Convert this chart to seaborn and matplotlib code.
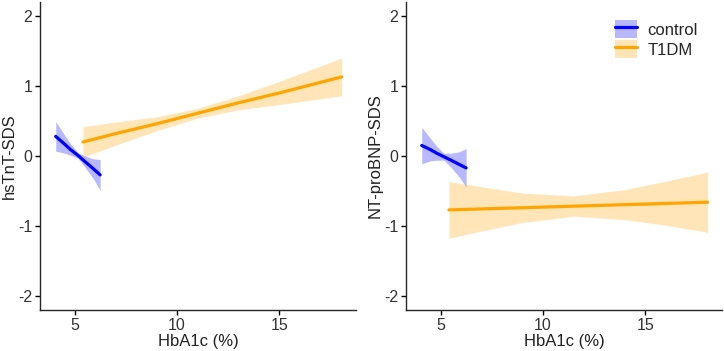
import numpy as np
import pandas as pd
import matplotlib.pyplot as plt
from matplotlib.patches import Patch
from matplotlib.lines import Line2D
import seaborn as sns

# fitted lines and 95% bands
groups = ["control", "T1DM"]
colors = {"control": "#0000FF", "T1DM": "#FFA500"}

ctrl_x = [4.07, 4.5, 4.8, 5.15, 5.5, 5.9, 6.24]
t1dm_x_tnt = [5.4, 7, 9, 11, 13, 15, 18.05]
t1dm_x_bnp = [5.4, 7, 9, 11.5, 14, 16, 18.05]

# hsTnT-SDS
tnt_ctrl_fit = [0.28, 0.17, 0.09, 0.01, -0.08, -0.18, -0.27]
tnt_ctrl_lo = [0.07, 0.04, 0.01, -0.03, -0.16, -0.32, -0.49]
tnt_ctrl_hi = [0.49, 0.30, 0.17, 0.05, 0.00, -0.04, -0.05]
tnt_t1dm_fit = [0.20, 0.32, 0.46, 0.61, 0.76, 0.90, 1.13]
tnt_t1dm_lo = [-0.02, 0.155, 0.36, 0.54, 0.66, 0.735, 0.86]
tnt_t1dm_hi = [0.42, 0.485, 0.56, 0.68, 0.86, 1.065, 1.40]

# NT-proBNP-SDS
bnp_ctrl_fit = [0.15, 0.09, 0.04, -0.01, -0.06, -0.12, -0.17]
bnp_ctrl_lo = [-0.11, -0.07, -0.06, -0.06, -0.16, -0.30, -0.445]
bnp_ctrl_hi = [0.41, 0.25, 0.14, 0.04, 0.04, 0.06, 0.105]
bnp_t1dm_fit = [-0.77, -0.756, -0.739, -0.717, -0.695, -0.678, -0.66]
bnp_t1dm_lo = [-1.175, -1.07, -0.95, -0.86, -0.91, -0.99, -1.09]
bnp_t1dm_hi = [-0.365, -0.44, -0.53, -0.57, -0.48, -0.36, -0.23]


def make_df(xc, fc, lc, hc, xt, ft, lt, ht):
    a = pd.DataFrame({"x": xc, "fit": fc, "lo": lc, "hi": hc, "group": "control"})
    b = pd.DataFrame({"x": xt, "fit": ft, "lo": lt, "hi": ht, "group": "T1DM"})
    return pd.concat([a, b], ignore_index=True)


tnt = make_df(ctrl_x, tnt_ctrl_fit, tnt_ctrl_lo, tnt_ctrl_hi,
              t1dm_x_tnt, tnt_t1dm_fit, tnt_t1dm_lo, tnt_t1dm_hi)
bnp = make_df(ctrl_x, bnp_ctrl_fit, bnp_ctrl_lo, bnp_ctrl_hi,
              t1dm_x_bnp, bnp_t1dm_fit, bnp_t1dm_lo, bnp_t1dm_hi)

sns.set_style("ticks")
plt.rcParams['font.family'] = ['Liberation Sans', 'DejaVu Sans']
plt.rcParams['axes.linewidth'] = 1.0

fig = plt.figure(figsize=(7.24, 3.51), dpi=100)
ax1 = fig.add_axes([40 / 724, 41 / 351, 316 / 724, 308 / 351])
ax2 = fig.add_axes([406 / 724, 41 / 351, 316 / 724, 308 / 351])

for ax, df, ylab in [(ax1, tnt, "hsTnT-SDS"), (ax2, bnp, "NT-proBNP-SDS")]:
    for g in groups:
        d = df[df["group"] == g]
        ax.fill_between(d["x"], d["lo"], d["hi"], color=colors[g],
                        alpha=0.28, linewidth=0)
    sns.lineplot(data=df, x="x", y="fit", hue="group", palette=colors,
                 linewidth=2.3, legend=False, ax=ax, estimator=None, sort=True)
    ax.set_xlim(3.3, 18.75)
    ax.set_ylim(-2.2, 2.2)
    ax.set_xticks([5, 10, 15])
    ax.set_yticks([-2, -1, 0, 1, 2])
    ax.set_yticklabels(["-2", "-1", "0", "1", "2"])
    ax.set_xlabel("HbA1c (%)", fontsize=12, color="#222222", labelpad=1)
    ax.set_ylabel(ylab, fontsize=12, color="#222222", labelpad=1)
    ax.tick_params(labelsize=11.5, length=3.5, width=1, colors="black",
                   labelcolor="#333333", pad=2)
    sns.despine(ax=ax)

handles = [(Patch(facecolor=colors[g], alpha=0.28, linewidth=0),
            Line2D([], [], color=colors[g], linewidth=2.3)) for g in groups]
ax2.legend(handles, groups, loc="upper right", bbox_to_anchor=(0.97, 0.99),
           frameon=False, fontsize=12, handlelength=1.3, handleheight=1.3,
           handletextpad=0.6, labelspacing=0.1)

fig.savefig("out.png", dpi=100)
